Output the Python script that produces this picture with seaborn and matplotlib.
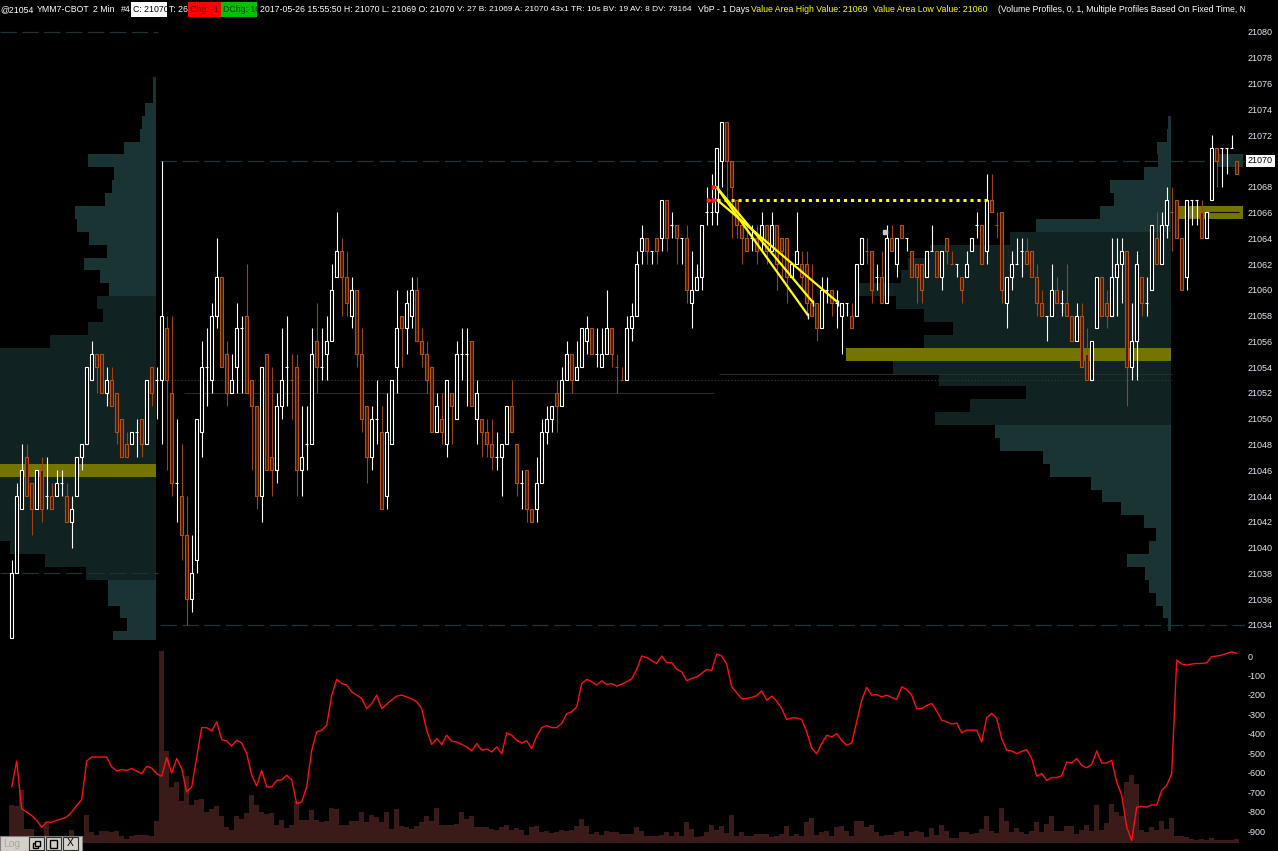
import numpy as np
import pandas as pd
import matplotlib.pyplot as plt
import matplotlib.transforms as mtransforms
from matplotlib.patches import Rectangle
import seaborn as sns

W, H = 1278, 851

# 2 min bars, YMM7-CBOT
opens = [21033, 21038, 21043, 21047, 21045, 21043, 21046, 21044, 21044, 21044,
         21045, 21044, 21042, 21044, 21047, 21048, 21053, 21055, 21055, 21052,
         21053, 21052, 21050, 21048, 21048, 21049, 21050, 21048, 21054, 21053,
         21053, 21057, 21052, 21045, 21044, 21041, 21036, 21039, 21049, 21054,
         21053, 21058, 21061, 21055, 21052, 21054, 21057, 21058, 21053, 21051,
         21044, 21055, 21047, 21046, 21051, 21054, 21053, 21054, 21046, 21048,
         21048, 21056, 21054, 21055, 21056, 21061, 21063, 21061, 21058, 21060,
         21055, 21051, 21047, 21050, 21049, 21044, 21048, 21054, 21058, 21057,
         21058, 21060, 21056, 21055, 21054, 21049, 21050, 21048, 21052, 21050,
         21055, 21055, 21056, 21050, 21050, 21049, 21048, 21047, 21047, 21048,
         21051, 21048, 21045, 21046, 21043, 21043, 21045, 21049, 21050, 21052,
         21051, 21053, 21055, 21053, 21054, 21056, 21057, 21055, 21054, 21055,
         21057, 21054, 21053, 21053, 21057, 21058, 21063, 21064, 21063, 21064,
         21064, 21067, 21065, 21065, 21064, 21064, 21059, 21060, 21061, 21066,
         21066, 21066, 21070, 21073, 21070, 21067, 21065, 21064, 21064, 21064,
         21064, 21065, 21063, 21065, 21064, 21064, 21061, 21062, 21062, 21062,
         21059, 21059, 21057, 21060, 21060, 21059, 21058, 21059, 21058, 21058,
         21062, 21063, 21063, 21061, 21061, 21059, 21064, 21062, 21065, 21064,
         21063, 21062, 21062, 21061, 21063, 21063, 21061, 21064, 21062, 21062,
         21061, 21061, 21063, 21065, 21065, 21063, 21067, 21065, 21066, 21059,
         21061, 21062, 21063, 21063, 21063, 21061, 21059, 21058, 21058, 21060,
         21059, 21059, 21058, 21056, 21058, 21055, 21053, 21057, 21061, 21059,
         21058, 21061, 21062, 21063, 21054, 21056, 21061, 21059, 21060, 21064,
         21062, 21065, 21066, 21067, 21064, 21061, 21067, 21067, 21066, 21064,
         21067, 21071, 21071, 21071, 21071, 21070]
highs = [21039, 21045, 21048, 21048, 21045, 21046, 21047, 21047, 21045, 21046,
         21046, 21045, 21044, 21047, 21048, 21054, 21056, 21055, 21055, 21054,
         21054, 21052, 21050, 21049, 21049, 21050, 21050, 21053, 21054, 21054,
         21070, 21058, 21058, 21050, 21048, 21044, 21041, 21050, 21056, 21057,
         21059, 21064, 21061, 21056, 21055, 21059, 21058, 21062, 21053, 21051,
         21054, 21055, 21054, 21052, 21057, 21058, 21055, 21055, 21051, 21051,
         21057, 21059, 21057, 21058, 21062, 21066, 21064, 21063, 21061, 21060,
         21057, 21051, 21051, 21053, 21051, 21052, 21053, 21060, 21058, 21060,
         21061, 21061, 21057, 21056, 21054, 21052, 21052, 21053, 21052, 21056,
         21057, 21057, 21056, 21053, 21050, 21050, 21050, 21049, 21048, 21051,
         21053, 21048, 21046, 21046, 21043, 21047, 21050, 21051, 21051, 21053,
         21054, 21056, 21055, 21056, 21057, 21058, 21057, 21057, 21057, 21060,
         21057, 21055, 21054, 21058, 21059, 21063, 21065, 21064, 21063, 21064,
         21067, 21067, 21066, 21065, 21064, 21065, 21063, 21062, 21065, 21068,
         21069, 21071, 21073, 21073, 21070, 21067, 21065, 21065, 21065, 21065,
         21066, 21065, 21066, 21065, 21064, 21064, 21062, 21066, 21063, 21063,
         21062, 21059, 21061, 21061, 21060, 21060, 21059, 21059, 21059, 21062,
         21064, 21064, 21063, 21062, 21063, 21065, 21065, 21064, 21065, 21064,
         21063, 21062, 21062, 21063, 21065, 21063, 21063, 21064, 21063, 21062,
         21061, 21063, 21064, 21066, 21065, 21069, 21069, 21066, 21066, 21061,
         21063, 21064, 21064, 21064, 21063, 21062, 21060, 21058, 21062, 21061,
         21060, 21062, 21058, 21059, 21059, 21057, 21056, 21061, 21061, 21060,
         21064, 21064, 21064, 21063, 21059, 21063, 21061, 21061, 21065, 21066,
         21066, 21068, 21068, 21067, 21064, 21067, 21067, 21067, 21067, 21066,
         21072, 21071, 21071, 21071, 21072, 21070]
lows = [21033, 21038, 21043, 21044, 21041, 21043, 21042, 21043, 21043, 21044,
        21044, 21042, 21040, 21044, 21046, 21048, 21053, 21052, 21052, 21051,
        21051, 21048, 21047, 21047, 21048, 21047, 21047, 21048, 21051, 21050,
        21048, 21046, 21044, 21042, 21039, 21034, 21035, 21038, 21047, 21051,
        21052, 21057, 21054, 21051, 21052, 21052, 21052, 21052, 21046, 21043,
        21042, 21046, 21044, 21045, 21050, 21051, 21050, 21044, 21044, 21046,
        21048, 21052, 21053, 21053, 21056, 21061, 21058, 21058, 21057, 21054,
        21049, 21045, 21046, 21048, 21043, 21043, 21048, 21052, 21054, 21055,
        21057, 21056, 21054, 21052, 21049, 21049, 21048, 21047, 21048, 21050,
        21053, 21051, 21051, 21048, 21047, 21047, 21046, 21046, 21044, 21048,
        21049, 21044, 21043, 21042, 21042, 21042, 21045, 21048, 21049, 21049,
        21051, 21053, 21052, 21053, 21054, 21055, 21055, 21054, 21054, 21055,
        21054, 21052, 21053, 21053, 21056, 21058, 21062, 21062, 21062, 21062,
        21063, 21063, 21064, 21062, 21062, 21059, 21057, 21060, 21060, 21065,
        21065, 21065, 21068, 21067, 21064, 21064, 21062, 21063, 21063, 21062,
        21063, 21062, 21063, 21060, 21061, 21059, 21061, 21062, 21060, 21058,
        21058, 21056, 21057, 21059, 21058, 21057, 21055, 21058, 21057, 21058,
        21062, 21062, 21059, 21060, 21059, 21059, 21063, 21061, 21064, 21063,
        21061, 21059, 21059, 21061, 21063, 21061, 21060, 21062, 21062, 21061,
        21059, 21061, 21063, 21064, 21062, 21062, 21066, 21064, 21059, 21057,
        21060, 21062, 21061, 21062, 21061, 21058, 21058, 21056, 21058, 21059,
        21058, 21058, 21056, 21056, 21054, 21053, 21053, 21057, 21058, 21057,
        21058, 21058, 21059, 21051, 21053, 21053, 21058, 21058, 21060, 21062,
        21062, 21064, 21063, 21064, 21060, 21060, 21065, 21065, 21064, 21064,
        21067, 21068, 21068, 21069, 21071, 21069]
closes = [21038, 21044, 21046, 21044, 21043, 21046, 21043, 21044, 21043, 21045,
          21045, 21042, 21043, 21047, 21048, 21054, 21055, 21054, 21052, 21053,
          21051, 21049, 21047, 21047, 21049, 21049, 21048, 21053, 21052, 21053,
          21058, 21053, 21045, 21045, 21041, 21036, 21038, 21050, 21054, 21054,
          21058, 21061, 21054, 21052, 21053, 21057, 21057, 21052, 21051, 21044,
          21054, 21046, 21046, 21051, 21053, 21054, 21053, 21046, 21047, 21048,
          21055, 21054, 21054, 21056, 21060, 21063, 21061, 21059, 21060, 21055,
          21050, 21047, 21050, 21050, 21043, 21049, 21053, 21057, 21057, 21059,
          21060, 21056, 21055, 21053, 21049, 21051, 21049, 21053, 21051, 21055,
          21055, 21055, 21051, 21052, 21049, 21048, 21047, 21047, 21048, 21051,
          21049, 21045, 21045, 21043, 21042, 21045, 21049, 21050, 21051, 21051,
          21053, 21055, 21053, 21054, 21057, 21057, 21055, 21055, 21055, 21057,
          21055, 21054, 21053, 21057, 21058, 21062, 21064, 21063, 21063, 21063,
          21067, 21064, 21065, 21064, 21064, 21060, 21060, 21061, 21065, 21066,
          21066, 21071, 21073, 21070, 21068, 21065, 21064, 21063, 21064, 21063,
          21065, 21063, 21065, 21062, 21063, 21061, 21062, 21063, 21061, 21059,
          21058, 21057, 21060, 21060, 21059, 21059, 21059, 21059, 21057, 21062,
          21064, 21063, 21060, 21061, 21059, 21064, 21063, 21064, 21064, 21064,
          21061, 21061, 21060, 21063, 21063, 21061, 21063, 21063, 21062, 21062,
          21060, 21062, 21064, 21065, 21062, 21067, 21066, 21065, 21060, 21061,
          21062, 21062, 21063, 21062, 21061, 21059, 21058, 21058, 21060, 21059,
          21059, 21058, 21056, 21058, 21054, 21053, 21056, 21061, 21058, 21058,
          21061, 21062, 21063, 21054, 21056, 21062, 21059, 21059, 21065, 21062,
          21065, 21067, 21066, 21064, 21060, 21067, 21067, 21067, 21064, 21066,
          21071, 21070, 21071, 21071, 21071, 21069]
volume = [380, 370, 530, 140, 140, 20, 20, 210, 20, 20,
          20, 20, 130, 50, 70, 280, 110, 80, 120, 120,
          110, 120, 70, 40, 70, 80, 80, 80, 70, 220,
          1920, 920, 560, 610, 420, 670, 380, 430, 440, 310,
          340, 370, 270, 160, 130, 270, 240, 300, 480, 380,
          310, 290, 300, 180, 230, 150, 180, 420, 230, 230,
          330, 230, 210, 220, 350, 340, 180, 180, 220, 220,
          310, 210, 280, 260, 210, 310, 140, 340, 170, 160,
          140, 170, 210, 270, 220, 350, 180, 180, 180, 190,
          310, 240, 270, 160, 160, 160, 140, 130, 160, 180,
          130, 150, 130, 80, 160, 170, 110, 120, 100, 110,
          130, 120, 130, 170, 240, 170, 90, 110, 80, 120,
          110, 110, 90, 90, 90, 160, 120, 70, 70, 70,
          80, 110, 70, 110, 70, 210, 140, 60, 70, 110,
          180, 130, 170, 100, 280, 70, 110, 70, 70, 90,
          90, 90, 60, 70, 90, 170, 70, 90, 70, 210,
          250, 80, 110, 120, 70, 160, 170, 120, 70, 220,
          220, 160, 180, 110, 70, 80, 80, 110, 120, 70,
          110, 120, 110, 60, 150, 80, 180, 120, 50, 50,
          110, 110, 90, 100, 140, 270, 120, 100, 350, 220,
          110, 150, 110, 90, 120, 210, 110, 190, 270, 120,
          120, 170, 170, 90, 130, 180, 120, 380, 130, 200,
          390, 310, 270, 610, 680, 590, 130, 110, 160, 130,
          220, 140, 250, 70, 70, 60, 40, 30, 40, 30,
          50, 30, 30, 30, 30, 40]
delta = [-673, -540, -785, -802, -820, -845, -880, -854, -854, -845,
         -837, -828, -802, -768, -739, -540, -519, -519, -519, -519,
         -570, -591, -584, -588, -579, -591, -605, -567, -576, -605,
         -618, -522, -601, -527, -579, -699, -673, -519, -368, -368,
         -385, -338, -430, -436, -462, -433, -447, -502, -613, -668,
         -588, -673, -673, -639, -636, -613, -636, -759, -751, -673,
         -484, -390, -381, -356, -201, -120, -141, -149, -184, -201,
         -218, -270, -244, -201, -270, -247, -225, -206, -201, -210,
         -220, -235, -270, -381, -455, -424, -455, -407, -438, -442,
         -454, -467, -488, -450, -484, -478, -493, -467, -502, -395,
         -407, -433, -447, -436, -476, -412, -368, -357, -368, -368,
         -347, -296, -287, -261, -141, -120, -132, -149, -127, -146,
         -141, -155, -144, -132, -117, -69, 0, -7, -24, -38,
         0, -33, -34, -67, -81, -127, -115, -107, -89, -69,
         -74, 10, 0, -41, -158, -189, -220, -218, -213, -203,
         -179, -227, -206, -232, -270, -326, -318, -318, -326, -390,
         -473, -503, -450, -407, -416, -399, -433, -459, -447, -338,
         -227, -161, -201, -198, -210, -201, -213, -223, -158, -172,
         -201, -270, -270, -254, -244, -282, -330, -338, -350, -344,
         -395, -381, -381, -381, -442, -316, -295, -321, -424, -484,
         -488, -502, -490, -481, -527, -618, -605, -639, -625, -625,
         -615, -545, -550, -527, -562, -574, -557, -488, -550, -550,
         -536, -648, -716, -880, -948, -777, -773, -777, -765, -766,
         -691, -665, -605, -21, -41, -46, -41, -38, -38, -34,
         -3, 0, 5, 14, 22, 14]

price_ticks = list(range(21034, 21081, 2))
delta_ticks = [0, -100, -200, -300, -400, -500, -600, -700, -800, -900]

# volume by price, previous day (left) and today (right), third = new session
prof1_prices = list(range(21076, 21032, -1))
prof1_vol = [3, 3, 11, 14, 16, 32, 68, 42, 44, 51, 81, 79, 67, 49, 72, 56, 47, 59, 53, 68,
             106, 165, 172, 180, 170, 176, 185, 178, 168, 182, 195, 184, 176, 170, 174, 162,
             146, 111, 70, 48, 48, 36, 29, 43]
prof1_poc, prof1_va = 21046, (21038, 21059)
prof2_prices = list(range(21073, 21033, -1))
prof2_vol = [3, 4, 14, 13, 27, 61, 57, 71, 135, 161, 241, 263, 270, 313, 275, 247, 218, 247,
             325, 278, 232, 145, 201, 236, 176, 171, 128, 121, 80, 69, 50, 27, 15, 22, 44, 26,
             22, 15, 8, 3]
prof2_poc, prof2_va = 21055, (21050, 21064)
prof3_prices = [21070, 21066]
prof3_vol = [25, 66]

# chart drawings (bar index, price)
trend_x = [[140.9, 159.3], [140.9, 160.3], [141.0, 165.3]]
trend_y = [[21068, 21058], [21068, 21059], [21067, 21059]]
hray_x = [141.0, 195.3]
hray_y = 21067

df = pd.DataFrame({'open': opens, 'high': highs, 'low': lows, 'close': closes,
                   'volume': volume, 'delta': delta})
df['bar'] = np.arange(len(df))
prev = df['close'].shift(1).fillna(df['open'])
df['up'] = (df['close'] > df['open']) | ((df['close'] == df['open']) & (df['close'] >= prev))

sns.set_theme(style="dark", rc={"axes.facecolor": "black", "figure.facecolor": "black"})
plt.rcParams['font.family'] = ['Liberation Sans', 'DejaVu Sans']
plt.rcParams['axes.unicode_minus'] = False

fig = plt.figure(figsize=(W / 100, H / 100), dpi=100)
ax = fig.add_axes([0, 1 - 640 / H, 1245 / W, 620 / H])
axv = fig.add_axes([0, 3 / H, 1245 / W, 203 / H])
axd = axv.twinx()

XL = (-11.7 / 5, (1245 - 11.7) / 5)
light, dark, olive = '#1a3333', '#102222', '#747400'


def profile(prices, vols, anchor, poc, va):
    w = np.array(vols) * 0.2
    cols = [olive if p == poc else (dark if va[0] <= p <= va[1] else light) for p in prices]
    ax.barh(prices, w, left=anchor - w, height=1.0, color=cols, linewidth=0, zorder=1)


profile(prof1_prices, prof1_vol, 28.86, prof1_poc, prof1_va)
profile(prof2_prices, prof2_vol, 231.8, prof2_poc, prof2_va)
w3 = np.array(prof3_vol) * 0.2
ax.barh(prof3_prices, w3, left=246.26 - w3, height=1.0, color=[light, olive], linewidth=0, zorder=1)
ax.hlines(21066, 239.4, 245.4, color='#111111', lw=0.8, zorder=1.5)

dash = (0, (13, 4.5))
ax.hlines([21080, 21038], XL[0], 29.3, color='#1c3434', lw=0.9, linestyles=dash, zorder=1.2)
ax.hlines([21070, 21034], 29.7, XL[1], color='#1c3434', lw=0.9, linestyles=dash, zorder=1.2)
ax.hlines(21052, 34.5, 140.5, color='#2a2a2a', lw=0.8, zorder=1.2)
ax.hlines(21053.45, 141.5, 232, color='#2a2a2a', lw=0.8, zorder=1.2)
ax.hlines(21053, 29.8, 232.5, color='#3a3a3a', lw=0.8, linestyles=(0, (1, 2)), zorder=1.2)

# candles
up, dn = df[df['up']], df[~df['up']]
for sub, edge, face, wick in [(up, '#ffffff', '#000000', '#ffffff'),
                              (dn, '#b5500f', '#4a1a05', '#9a4510')]:
    ax.vlines(sub['bar'], sub['low'], sub['high'], color=wick, lw=0.8, zorder=2)
    lo = np.minimum(sub['open'], sub['close'])
    hi = np.maximum(sub['open'], sub['close'])
    ax.bar(sub['bar'], hi - lo, bottom=lo, width=0.58, color=face, edgecolor=edge,
           linewidth=0.8, zorder=3)

# drawings
for xs, ys in zip(trend_x, trend_y):
    ax.plot(xs, ys, color='#ffff00', lw=1.6, zorder=4, solid_capstyle='butt')
    ax.plot(xs[1], ys[1], marker='|', color='white', ms=4, mew=1, zorder=4)
ax.plot(hray_x, [hray_y, hray_y], color='#ffff00', lw=2.2, dashes=(1, 1.3), zorder=4)
ax.plot([140.4, 139.4, 140.4], [21068, 21067, 21067], ls='none', marker='>', color='#ff2020',
        ms=3, zorder=5)
ax.plot(174.7, 21064.5, marker='s', ms=3, color='#c8c8c8', zorder=5)

ax.set_xlim(*XL)
ax.set_ylim(21032.83, 21080.93)
ax.set_xticks([])
ax.set_yticks(price_ticks)
ax.yaxis.tick_right()
ax.tick_params(axis='y', length=0, pad=2.2, labelsize=6.5, labelcolor='#e4e6f0')
ax.grid(False)
for s in ax.spines.values():
    s.set_visible(False)
ax.text(1 + 3 / 1245, 21070, '21070', transform=ax.get_yaxis_transform(), va='center',
        ha='left', color='black', fontsize=6.5,
        bbox=dict(fc='white', ec='none', pad=1.2), clip_on=False, zorder=10)

# lower pane: volume and delta line
axv.bar(df['bar'], df['volume'], width=1.0, color='#3b1a1a', linewidth=0)
axv.set_xlim(*XL)
axv.set_ylim(-50, 1980)
axv.set_xticks([])
axv.set_yticks([])
axv.grid(False)
sns.lineplot(data=df, x='bar', y='delta', ax=axd, color='#ff1010', lw=1)
axd.set_xlim(*XL)
axd.set_ylim(-987, 57)
axd.set_yticks(delta_ticks)
axd.set_xlabel('')
axd.set_ylabel('')
axd.tick_params(axis='y', length=0, pad=2.2, labelsize=6.5, labelcolor='#e4e6f0')
axd.grid(False)
axd.patch.set_visible(False)
for a in (axv, axd):
    for s in a.spines.values():
        s.set_visible(False)


# header line
def fx(px):
    return px / W


def fy(py):
    return 1 - py / H


def clip_to(t, x0, x1):
    bb = mtransforms.Bbox.from_extents(fx(x0), fy(18), fx(x1), fy(0))
    t.set_clip_box(mtransforms.TransformedBbox(bb, fig.transFigure))
    t.set_clip_on(True)


for x0, x1, c in [(131, 167, '#ffffff'), (188, 221, '#ff0000'), (221, 257, '#00c000')]:
    fig.patches.append(Rectangle((fx(x0), fy(17)), fx(x1 - x0), 15 / H, transform=fig.transFigure,
                                 facecolor=c, edgecolor='none', figure=fig, zorder=5))

head = [(0, '@21054', 'white', 6.3), (37, 'YMM7-CBOT', 'white', 6.3), (93, '2 Min', 'white', 6.3),
        (121, '#4', 'white', 6.3), (133, 'C: 21070', 'black', 6.3), (169, 'T: 26', 'white', 6.3),
        (190, 'Chg: -1', '#7a0000', 6.3), (223, 'DChg: 10', '#003a00', 6.3),
        (260, '2017-05-26 15:55:50 H: 21070 L: 21069 O: 21070', 'white', 6.3),
        (457, 'V: 27 B: 21069 A: 21070 43x1 TR: 10s BV: 19 AV: 8 DV: 78164', 'white', 6.05),
        (698, 'VbP - 1 Days', 'white', 6.3),
        (751, 'Value Area High Value: 21069', '#ffff00', 6.3),
        (873, 'Value Area Low Value: 21060', '#ffff00', 6.3),
        (998, '(Volume Profiles, 0, 1, Multiple Profiles Based On Fixed Time, No', 'white', 6.3)]
clips = {'C: 21070': (131, 167), 'T: 26': (168, 188), 'Chg: -1': (188, 221),
         'DChg: 10': (221, 257)}
for x, s, c, fs in head:
    t = fig.text(fx(x), fy(9.5), s, color=c, fontsize=fs, va='center', ha='left', zorder=6)
    if s in clips:
        clip_to(t, *clips[s])
    elif s.startswith('(Volume'):
        clip_to(t, 990, 1245)

# Log window stub in the corner
fig.patches.append(Rectangle((0, 0), fx(82), 15 / H, transform=fig.transFigure,
                             facecolor='#d4d0c8', edgecolor='#808080', lw=0.8, figure=fig, zorder=20))
fig.text(fx(3), fy(844), 'Log', color='#a8a8a8', fontsize=7.5, va='center', zorder=21)
for bx in (29, 46, 63):
    fig.patches.append(Rectangle((fx(bx), fy(850)), fx(15), 13 / H, transform=fig.transFigure,
                                 facecolor='#d4d0c8', edgecolor='#303030', lw=0.8, figure=fig,
                                 zorder=21))
fig.patches.append(Rectangle((fx(50), fy(848)), fx(7), 8 / H, transform=fig.transFigure,
                             facecolor='none', edgecolor='black', lw=1, figure=fig, zorder=22))
fig.patches.append(Rectangle((fx(33), fy(848)), fx(5), 5 / H, transform=fig.transFigure,
                             facecolor='none', edgecolor='black', lw=1, figure=fig, zorder=22))
fig.patches.append(Rectangle((fx(35), fy(846)), fx(5), 5 / H, transform=fig.transFigure,
                             facecolor='#d4d0c8', edgecolor='black', lw=1, figure=fig, zorder=22))
fig.text(fx(70.5), fy(843.5), 'X', color='black', fontsize=7.5, va='center', ha='center',
         zorder=22)

fig.savefig('out.png', dpi=100, facecolor='black')
